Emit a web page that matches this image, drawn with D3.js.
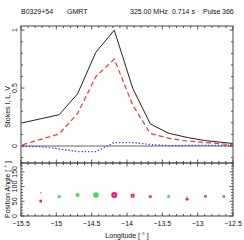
<!DOCTYPE html>
<html><head><meta charset="utf-8">
<script src="https://cdn.jsdelivr.net/npm/d3@7"></script>
<style>body{margin:0;background:#fff}svg{display:block}text{font-family:"Liberation Sans",Arial,sans-serif;fill:#111}</style>
</head><body>
<script>
// ---- data ----
const header = [
  {t:"B0329+54", x:21}, {t:"GMRT", x:67}, {t:"325.00 MHz", x:130},
  {t:"0.714 s", x:172}, {t:"Pulse", x:203}, {t:"366", x:222}
];
const lon = [-15.48,-15.22,-14.96,-14.70,-14.44,-14.18,-13.92,-13.67,-13.41,-13.15,-12.89,-12.63,-12.37];
const stokesI = [0.20,0.235,0.27,0.45,0.81,1.00,0.50,0.19,0.11,0.074,0.046,0.030,0.012];
const stokesL = [0.01,0.057,0.104,0.28,0.60,0.75,0.355,0.108,0.067,0.043,0.030,0.017,0.003];
const stokesV = [-0.004,-0.005,-0.026,-0.048,-0.048,0.029,0.030,0.013,0.003,0.004,0.006,0.004,0.004];
const paLon   = [-15.22,-14.96,-14.70,-14.44,-14.18,-13.92,-13.67,-13.41,-13.15,-12.89,-12.63];
const paValue = [51,66,71,71,71,69,66,66,57,66,66];
const paAlt   = [79,66,71,71,71,69,66,66,66,66,66];
const paMode  = ["m","g","g","g","m","m","m","g","m","m","m"];
const paFrac  = [0.057,0.104,0.28,0.60,0.75,0.355,0.108,0.067,0.043,0.030,0.017];
const xTicks = [-15.5,-15,-14.5,-14,-13.5,-13,-12.5];
const yTicksTop = [0,0.5,1];
const yTicksPA = [0,50,100,150];

const W=244,H=240, L=21, R=233, T=26, M=163, B=216;
const svg=d3.select("body").append("svg").attr("width",W).attr("height",H);
const x=d3.scaleLinear().domain([-15.5,-12.5]).range([L,R]);
const y=d3.scaleLinear().domain([-0.147,1.036]).range([M,T]);
const yp=d3.scaleLinear().domain([0,180]).range([B,M]);
const col=d3.scaleOrdinal().domain(["m","g"]).range(["#ee1a78","#33e633"]);
const ink="#333";

// header
svg.selectAll("text.hdr").data(header).enter().append("text")
  .attr("x",d=>d.x).attr("y",14).attr("font-size",7).text(d=>d.t);

// clip for curves
svg.append("clipPath").attr("id","c").append("rect").attr("x",L).attr("y",T).attr("width",R-L).attr("height",M-T);

// zero line
svg.append("line").attr("x1",L).attr("x2",R).attr("y1",y(0)).attr("y2",y(0)).attr("stroke","#999").attr("stroke-width",1.5);

const line=d3.line().x((d,i)=>x(lon[i])).y(d=>y(d));
const g=svg.append("g").attr("clip-path","url(#c)");
g.append("path").attr("d",line(stokesV)).attr("fill","none").attr("stroke","#3838ff").attr("stroke-width",1.3).attr("stroke-dasharray","1.3,2");
g.append("path").attr("d",line(stokesL)).attr("fill","none").attr("stroke","#ff3333").attr("stroke-width",1.2).attr("stroke-dasharray","5,3");
g.append("path").attr("d",line(stokesI)).attr("fill","none").attr("stroke","#222").attr("stroke-width",1);

// PA points
svg.selectAll("circle.pa").data(paValue).enter().append("circle")
  .attr("cx",(d,i)=>x(paLon[i])).attr("cy",d=>yp(d))
  .attr("r",(d,i)=>1.4+2.2*paFrac[i]).attr("fill",(d,i)=>col(paMode[i]));
svg.selectAll("circle.alt").data(paAlt).enter().append("circle")
  .attr("cx",(d,i)=>x(paLon[i])).attr("cy",d=>yp(d))
  .attr("r",0.9).attr("fill","#aaa");

// frames
[[T,M],[M,B]].forEach(([a,b])=>svg.append("rect").attr("x",L).attr("y",a).attr("width",R-L).attr("height",b-a)
  .attr("fill","none").attr("stroke","#666").attr("stroke-width",1.2));

// ticks helper
function tk(x1,y1,x2,y2,w){svg.append("line").attr("x1",x1).attr("y1",y1).attr("x2",x2).attr("y2",y2).attr("stroke",ink).attr("stroke-width",w||0.8);}
const minorX=d3.range(-15.5,-12.45,0.1);
minorX.forEach(v=>{
  const major=Math.abs(v*2-Math.round(v*2))<1e-6;
  const px=x(v), len=major?3.5:2;
  tk(px,T,px,T+len);
  tk(px,M-len,px,M+len);
  tk(px,B,px,B-len);
});
d3.range(-0.1,1.04,0.1).forEach(v=>{
  const major=Math.abs(v*2-Math.round(v*2))<1e-6;
  const len=major?3.5:2, py=y(v);
  tk(L,py,L+len,py); tk(R,py,R-len,py);
});
d3.range(0,181,10).forEach(v=>{
  const major=v%50===0, len=major?3.5:2, py=yp(v);
  tk(L,py,L+len,py); tk(R,py,R-len,py);
});

// tick labels
svg.selectAll("text.xt").data(xTicks).enter().append("text")
  .attr("x",d=>x(d)).attr("y",226).attr("font-size",7).attr("text-anchor","middle")
  .text(d=>"\u2212"+Math.abs(d));
svg.selectAll("text.yt").data(yTicksTop).enter().append("text")
  .attr("transform",d=>`translate(17,${y(d)}) rotate(-90)`).attr("font-size",7).attr("text-anchor","middle")
  .text(d=>d);
svg.selectAll("text.yp").data(yTicksPA).enter().append("text")
  .attr("transform",d=>`translate(17,${yp(d)}) rotate(-90)`).attr("font-size",7).attr("text-anchor","middle")
  .text(d=>d);

// axis titles
svg.append("text").attr("transform","translate(10,107) rotate(-90)").attr("font-size",7).attr("text-anchor","middle").text("Stokes I, L, V");
svg.append("text").attr("transform","translate(10,189.5) rotate(-90)").attr("font-size",7).attr("text-anchor","middle").text("Position Angle [ ° ]");
svg.append("text").attr("x",127).attr("y",238).attr("font-size",7).attr("text-anchor","middle").text("Longitude [ ° ]");
</script>
</body></html>
